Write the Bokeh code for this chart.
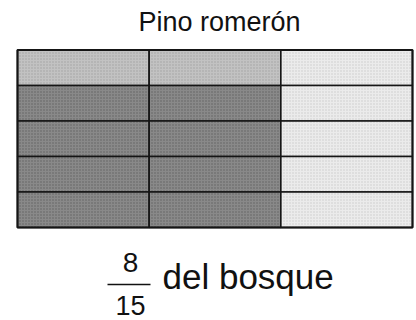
from bokeh.plotting import figure
from bokeh.models import ColumnDataSource, Range1d
from bokeh.core.properties import value
from bokeh.embed import file_html
from bokeh.resources import INLINE

# ---- data ----
title_text = "Pino romerón"
n_rows = 5
n_cols = 3
numerator = "8"
denominator = "15"
caption = "del bosque"
# shade level of each cell, rows from the top (0 = light, 1 = medium, 2 = dark)
row1 = [1, 1, 0]
row2 = [2, 2, 0]
row3 = [2, 2, 0]
row4 = [2, 2, 0]
row5 = [2, 2, 0]
rows = [row1, row2, row3, row4, row5]
shade_colors = ["#ebebeb", "#c2c2c2", "#898989"]
hatch_colors = ["#b0b0b0", "#888888", "#444444"]

# ---- layout (pixels) ----
W, H = 416, 320
grid_left, grid_right = 17, 412
grid_top, grid_bottom = 49.5, 227
cw = (grid_right - grid_left) / n_cols
rh = (grid_bottom - grid_top) / n_rows

xs, ys, fills, hcols = [], [], [], []
for r, row in enumerate(rows):
    for c, lvl in enumerate(row):
        xs.append(grid_left + (c + 0.5) * cw)
        ys.append(grid_top + (r + 0.5) * rh)
        fills.append(shade_colors[lvl])
        hcols.append(hatch_colors[lvl])
cells = ColumnDataSource(dict(x=xs, y=ys, fill=fills, hc=hcols))

p = figure(width=W, height=H, x_range=Range1d(0, W), y_range=Range1d(H, 0),
           output_backend="svg", toolbar_location=None, min_border=0)
p.axis.visible = False
p.grid.visible = False
p.outline_line_color = None
p.background_fill_color = "white"
p.border_fill_color = "white"

p.rect(x="x", y="y", width=cw, height=rh, source=cells,
       fill_color="fill", line_color="#151515", line_width=1.6,
       hatch_pattern="dot", hatch_color="hc", hatch_scale=3, hatch_alpha=0.6)
p.rect(x=(grid_left + grid_right) / 2, y=(grid_top + grid_bottom) / 2,
       width=grid_right - grid_left, height=grid_bottom - grid_top,
       fill_color=None, line_color="#151515", line_width=2)

font = value("Liberation Sans")
p.text(x=[219], y=[21.5], text=[title_text], text_font=font, text_font_size="27px",
       text_align="center", text_baseline="middle", text_color="#111111")

frac_x = 130
p.text(x=[frac_x], y=[262], text=[numerator], text_font=font, text_font_size="28px",
       text_align="center", text_baseline="middle", text_color="#111111")
p.text(x=[frac_x], y=[305], text=[denominator], text_font=font, text_font_size="27px",
       text_align="center", text_baseline="middle", text_color="#111111")
p.segment(x0=[107], y0=[284], x1=[150], y1=[284],
          line_color="#111111", line_width=1.6)
p.text(x=[162], y=[276], text=[caption], text_font=font, text_font_size="35px",
       text_align="left", text_baseline="middle", text_color="#111111")

open("out.html", "w").write(file_html(p, INLINE))
